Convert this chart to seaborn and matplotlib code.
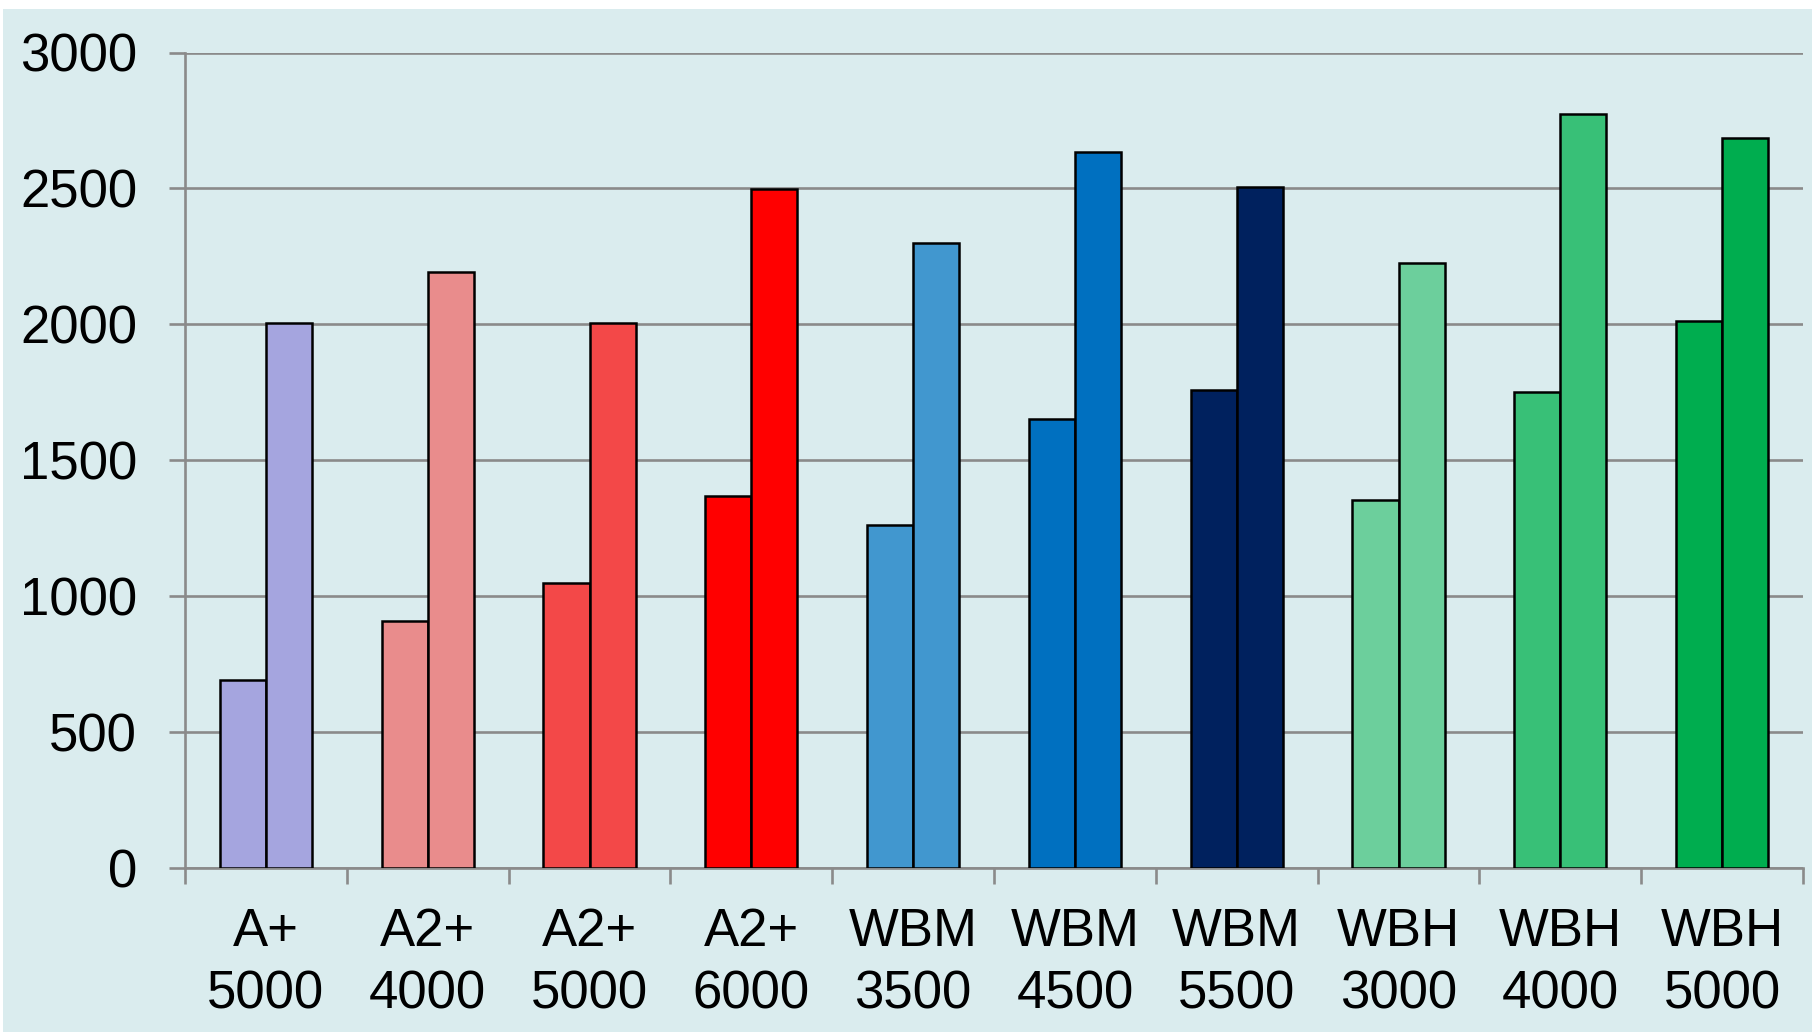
import matplotlib
matplotlib.use("Agg")
import matplotlib.pyplot as plt
import numpy as np
import pandas as pd
import seaborn as sns
from matplotlib.patches import Rectangle

# ── Data ──────────────────────────────────────────────────────────────────────
categories = ["A+\n5000", "A2+\n4000", "A2+\n5000", "A2+\n6000", "WBM\n3500",
              "WBM\n4500", "WBM\n5500", "WBH\n3000", "WBH\n4000", "WBH\n5000"]
first_values = [690, 909, 1050, 1369, 1261, 1651, 1760, 1352, 1750, 2013]
second_values = [2005, 2191, 2005, 2498, 2300, 2635, 2504, 2225, 2772, 2687]
bar_colors = ["#A5A5DF", "#E98C8C", "#F34848", "#FF0000", "#4197CF",
              "#0070C0", "#00215E", "#6CCF9C", "#38C077", "#00AD4F"]
y_ticks = [0, 500, 1000, 1500, 2000, 2500, 3000]

BG = "#DAECEE"
GRID = "#8A8A8A"

df = pd.DataFrame({
    "category": categories * 2,
    "value": first_values + second_values,
    "series": ["first"] * len(categories) + ["second"] * len(categories),
})

sns.set_theme(style="white")
plt.rcParams["font.family"] = ["Liberation Sans", "DejaVu Sans"]

fig = plt.figure(figsize=(18.12, 10.32), dpi=100)
fig.patch.set_facecolor("white")
fig.add_artist(Rectangle((3 / 1812, 0), 1, (1032 - 9) / 1032,
                         transform=fig.transFigure, facecolor=BG,
                         edgecolor="none", zorder=-10))

ax = fig.add_axes([185 / 1812, (1032 - 868) / 1032,
                   (1803 - 185) / 1812, (868 - 52.5) / 1032])
ax.set_facecolor(BG)

sns.barplot(data=df, x="category", y="value", hue="series", order=categories,
            width=0.57, gap=0, dodge=True, ax=ax, legend=False,
            edgecolor="black", linewidth=1.8, zorder=3)

# colour bars by category, not by series
for container in ax.containers:
    for patch, color in zip(container.patches, bar_colors):
        patch.set_facecolor(color)
        patch.set_alpha(1)

ax.set_ylim(0, 3000)
ax.set_xlim(-0.5, len(categories) - 0.5)
ax.set_yticks(y_ticks)
ax.yaxis.grid(True, color=GRID, linewidth=1.9, zorder=0)
ax.set_axisbelow(True)

ax.set_xticks(np.arange(-0.5, len(categories), 1), minor=True)
ax.tick_params(axis="x", which="major", length=0, pad=28, labelsize=38,
               labelcolor="black")
ax.tick_params(axis="x", which="minor", length=11.5, width=1.9, color=GRID,
               direction="out", bottom=True)
ax.tick_params(axis="y", length=11.5, width=1.9, color=GRID, direction="out",
               left=True, pad=23, labelsize=38, labelcolor="black")
for lbl in ax.get_xticklabels():
    lbl.set_linespacing(1.32)

for side in ["top", "right"]:
    ax.spines[side].set_visible(False)
for side in ["left", "bottom"]:
    ax.spines[side].set_color(GRID)
    ax.spines[side].set_linewidth(1.9)

ax.set_xlabel("")
ax.set_ylabel("")

fig.savefig("out.png", dpi=100, facecolor=fig.get_facecolor())
